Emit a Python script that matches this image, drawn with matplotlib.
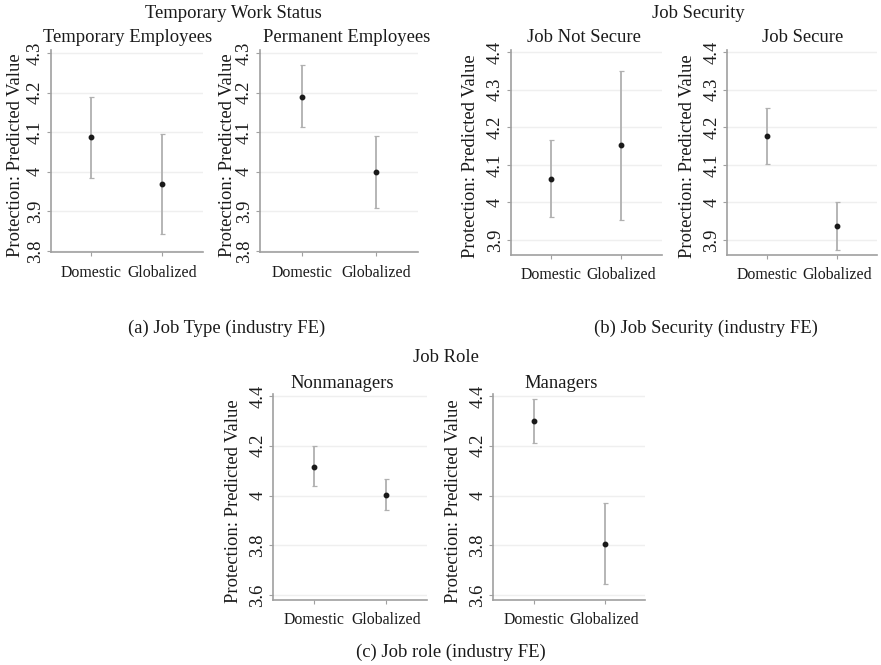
import matplotlib
matplotlib.use("Agg")
import matplotlib.pyplot as plt

plt.rcParams['font.family'] = ['Liberation Serif', 'DejaVu Serif']

# ---------------- data ----------------
categories = ["Domestic", "Globalized"]

temp_est = [4.088, 3.968]
temp_lo = [3.984, 3.842]
temp_hi = [4.190, 4.096]

perm_est = [4.189, 4.000]
perm_lo = [4.112, 3.909]
perm_hi = [4.269, 4.091]

notsec_est = [4.063, 4.152]
notsec_lo = [3.961, 3.954]
notsec_hi = [4.166, 4.350]

sec_est = [4.178, 3.936]
sec_lo = [4.102, 3.872]
sec_hi = [4.252, 4.002]

nonmgr_est = [4.116, 4.004]
nonmgr_lo = [4.038, 3.943]
nonmgr_hi = [4.197, 4.067]

mgr_est = [4.300, 3.806]
mgr_lo = [4.210, 3.644]
mgr_hi = [4.388, 3.969]

ticks_a = [3.8, 3.9, 4.0, 4.1, 4.2, 4.3]
ticklabels_a = ["3.8", "3.9", "4", "4.1", "4.2", "4.3"]
ticks_b = [3.9, 4.0, 4.1, 4.2, 4.3, 4.4]
ticklabels_b = ["3.9", "4", "4.1", "4.2", "4.3", "4.4"]
ticks_c = [3.6, 3.8, 4.0, 4.2, 4.4]
ticklabels_c = ["3.6", "3.8", "4", "4.2", "4.4"]

ylabel = "Protection: Predicted Value"

# ---------------- layout ----------------
W, H = 881, 665
fig = plt.figure(figsize=(W / 100, H / 100), dpi=100)
FS = 13.4
XFS = 11.4
SPINE = '#a0a0a0'
GRID = '#efefef'
BAR = '#b0b0b0'
TXT = '#1a1a1a'


def fx(px):
    return px / W


def fy(py):
    return 1 - py / H


def panel(box, est, lo, hi, yticks, yticklabels, ylim, title, title_x, title_y,
          ylab_x, ylab_y):
    l, t, r, b = box
    ax = fig.add_axes([fx(l), fy(b), (r - l) / W, (b - t) / H])
    xs = [1, 2]
    yerr = [[e - a for e, a in zip(est, lo)], [h - e for e, h in zip(est, hi)]]
    ax.errorbar(xs, est, yerr=yerr, fmt='none', ecolor=BAR, elinewidth=1.3,
                capsize=1.8, capthick=0.9, zorder=2)
    ax.plot(xs, est, 'o', color=TXT, markersize=3.2, zorder=3)
    ax.set_xlim(0.43, 2.57)
    ax.set_ylim(*ylim)
    ax.set_xticks(xs)
    ax.set_xticklabels(categories)
    ax.set_yticks(yticks)
    ax.set_yticklabels(yticklabels)
    for s in ['top', 'right']:
        ax.spines[s].set_visible(False)
    for s in ['left', 'bottom']:
        ax.spines[s].set_color(SPINE)
        ax.spines[s].set_linewidth(1.2)
    ax.grid(axis='y', color=GRID, linewidth=1.0)
    ax.set_axisbelow(True)
    ax.tick_params(axis='both', colors=SPINE, length=3, width=0.8,
                   labelcolor=TXT)
    ax.tick_params(axis='y', labelrotation=90, pad=2, labelsize=FS)
    ax.tick_params(axis='x', pad=6, labelsize=XFS)
    for lab in ax.get_yticklabels():
        lab.set_verticalalignment('center')
    fig.text(fx(title_x), fy(title_y), title, ha='center', va='center',
             fontsize=FS, color=TXT)
    fig.text(fx(ylab_x), fy(ylab_y), ylabel, ha='center', va='center',
             rotation=90, fontsize=FS, color=TXT)
    return ax


ylim_a = (3.797, 4.308)
ylim_b = (3.860, 4.406)
ylim_c = (3.580, 4.408)

panel((50.7, 50, 203, 252), temp_est, temp_lo, temp_hi, ticks_a, ticklabels_a,
      ylim_a, "Temporary Employees", 128, 38, 16, 155)
panel((260, 50, 418, 252), perm_est, perm_lo, perm_hi, ticks_a, ticklabels_a,
      ylim_a, "Permanent Employees", 347, 38, 227, 155)
panel((510.7, 50, 661.7, 255), notsec_est, notsec_lo, notsec_hi, ticks_b,
      ticklabels_b, ylim_b, "Job Not Secure", 584, 38, 471, 156)
panel((727.3, 50, 876.7, 255), sec_est, sec_lo, sec_hi, ticks_b, ticklabels_b,
      ylim_b, "Job Secure", 803, 38, 687, 156)
panel((273.3, 394, 426.7, 600), nonmgr_est, nonmgr_lo, nonmgr_hi, ticks_c,
      ticklabels_c, ylim_c, "Nonmanagers", 342, 383, 234, 501)
panel((493.3, 394, 645, 600), mgr_est, mgr_lo, mgr_hi, ticks_c, ticklabels_c,
      ylim_c, "Managers", 561, 383, 453, 501)

# group titles and captions
fig.text(fx(233), fy(13), "Temporary Work Status", ha='center', va='center',
         fontsize=FS, color=TXT)
fig.text(fx(698), fy(13), "Job Security", ha='center', va='center',
         fontsize=FS, color=TXT)
fig.text(fx(446), fy(357), "Job Role", ha='center', va='center',
         fontsize=FS, color=TXT)
fig.text(fx(227), fy(328), "(a) Job Type (industry FE)", ha='center',
         va='center', fontsize=FS, color=TXT)
fig.text(fx(706), fy(328), "(b) Job Security (industry FE)", ha='center',
         va='center', fontsize=FS, color=TXT)
fig.text(fx(451), fy(652), "(c) Job role (industry FE)", ha='center',
         va='center', fontsize=FS, color=TXT)

fig.savefig("out.png", dpi=100, facecolor='white')
